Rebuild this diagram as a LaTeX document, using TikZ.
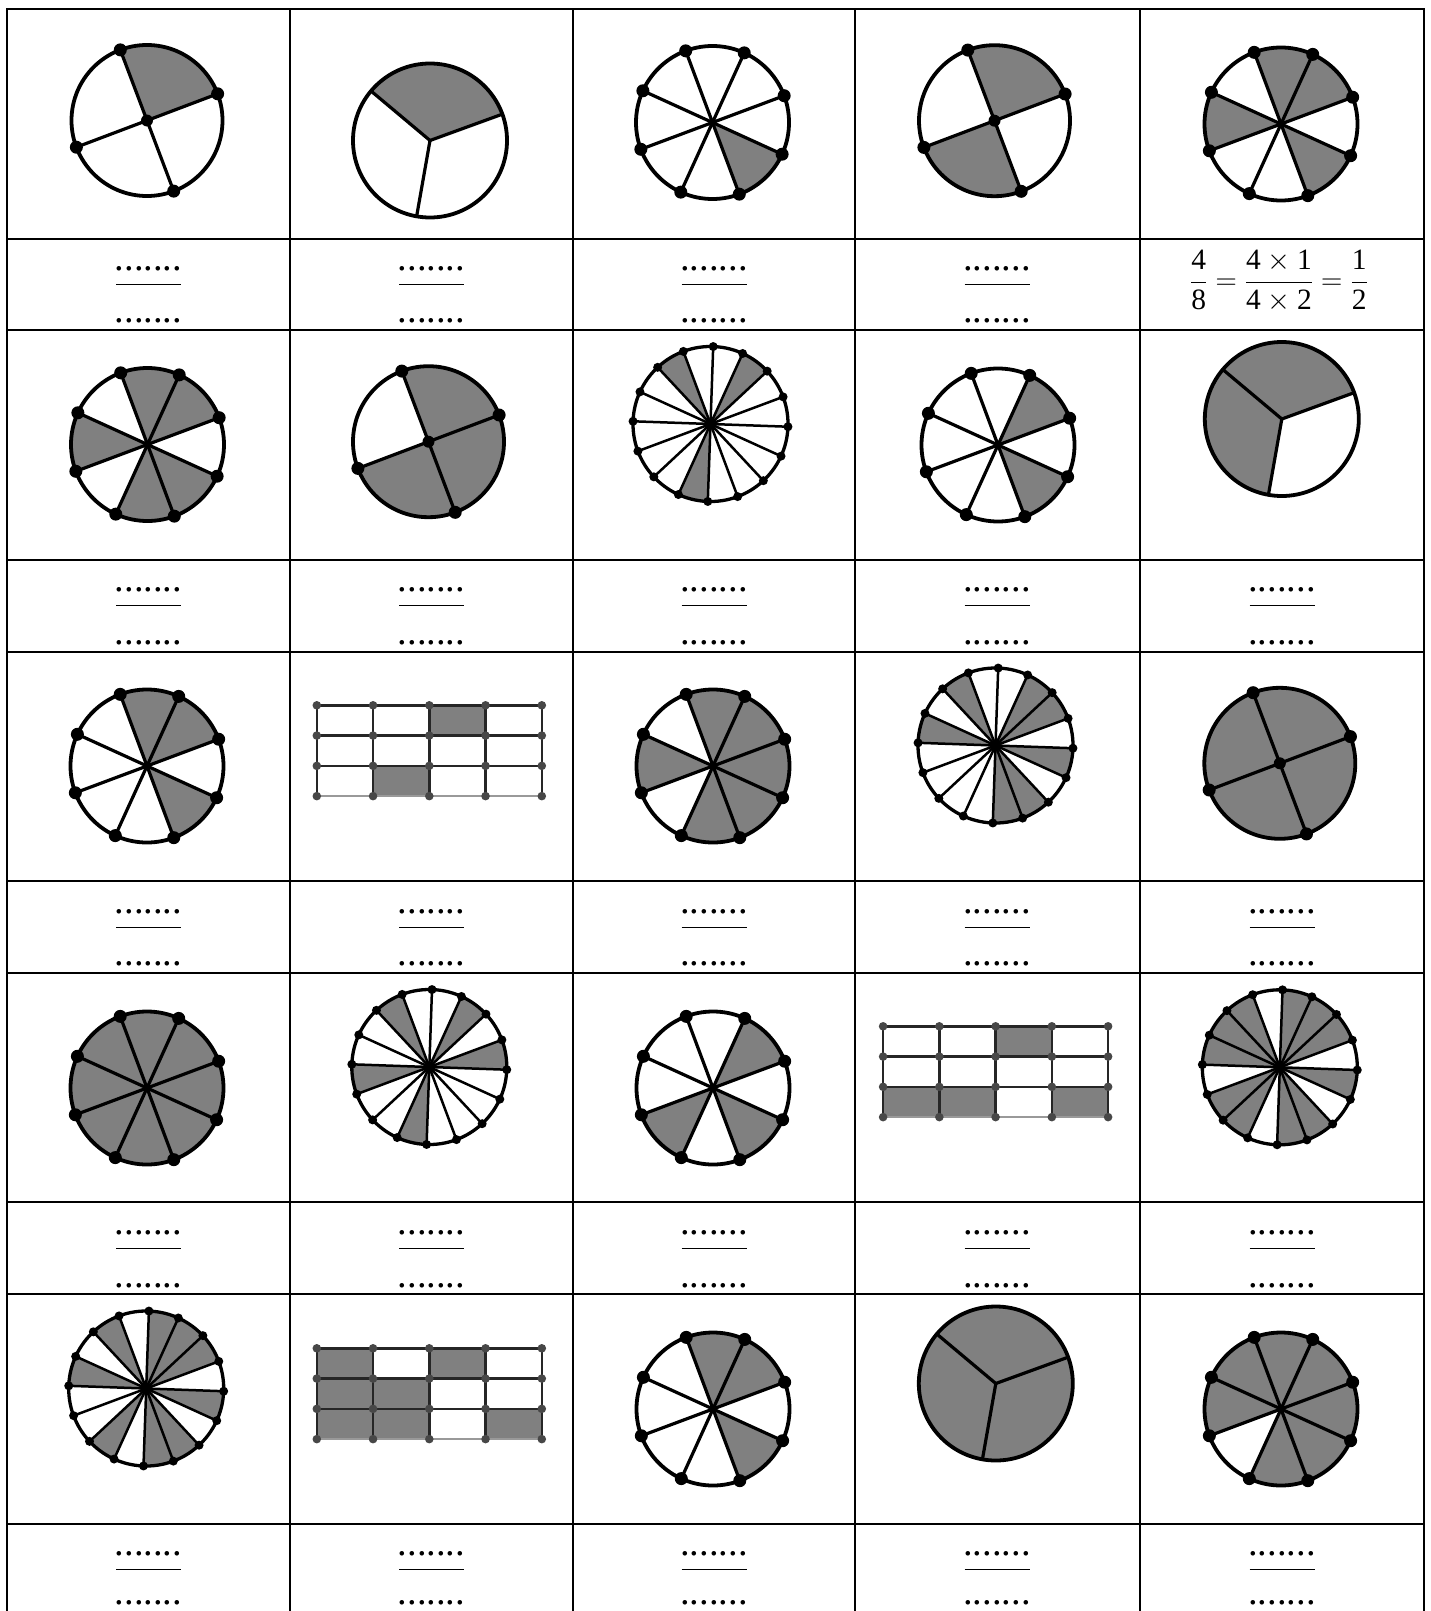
\RequirePackage{fix-cm}
\documentclass[tikz,border=0pt]{standalone}
\usepackage{amsmath}
\usepackage{fontspec}
\setmainfont{Liberation Serif}
\usepackage{tikz}
\definecolor{Shade}{HTML}{808080}
\definecolor{GridDot}{HTML}{474747}

% disc cut in equal parts: [style]{centre}{parts}{first angle}{shaded parts}{radius}
\newcommand{\fracpie}[6][]{%
  \begin{scope}[shift={(#2)},yscale=-1,#1]
    \foreach \k in {#5}
      \fill[Shade] (0,0) -- ({#4+\k*360/#3}:#6)
        arc[start angle={#4+\k*360/#3},delta angle={360/#3},radius=#6] -- cycle;
    \foreach \k in {1,...,#3}
      \draw[spoke] (0,0) -- ({#4+\k*360/#3}:#6);
    \draw[rim] (0,0) circle[radius=#6];
  \end{scope}}
% points on the rim and at the centre: {centre}{parts}{first angle}{radius}{rim dot}{centre dot}
\newcommand{\fracdots}[6]{%
  \begin{scope}[shift={(#1)},yscale=-1]
    \foreach \k in {1,...,#2}
      \fill ({#3+\k*360/#2}:#4) circle[radius=#5];
    \fill (0,0) circle[radius=#6];
  \end{scope}}
% 4 x 3 rectangle: {centre}{shaded cells col/row}
\newcommand{\cellgrid}[2]{%
  \begin{scope}[shift={(#1)}]
    \foreach \i/\j in {#2}
      \fill[Shade] ({-112.5+56.25*\i},{-45.4+30.27*\j}) rectangle ++(56.25,30.27);
    \foreach \i in {0,...,4}
      \draw[gridline] ({-112.5+56.25*\i},-45.4) -- ++(0,90.8);
    \foreach \j in {0,1,2}
      \draw[gridline] (-112.5,{-45.4+30.27*\j}) -- ++(225,0);
    \draw[gridline,black!40,line width=1.4pt] (-112.5,45.4) -- ++(225,0);
    \foreach \i in {0,...,4}
      \foreach \j in {0,...,3}
        \fill[GridDot] ({-112.5+56.25*\i},{-45.4+30.27*\j}) circle[radius=4.3];
  \end{scope}}

\begin{document}
\begin{tikzpicture}[x=1pt,y=-1pt,every node/.style={inner sep=0pt},
  tableline/.style={line width=2pt,line cap=rect},
  rim/.style={line width=3.8pt},
  spoke/.style={line width=3.2pt},
  fine/.style={spoke/.style={line width=2.5pt},rim/.style={line width=3.3pt}},
  gridline/.style={line width=2.4pt,black!85},
  blank/.style={font=\fontsize{38.5}{40}\selectfont,anchor=base},
  bar/.style={line width=1pt}]
\useasboundingbox (0,0) rectangle (1431,1611);
\clip (0,0) rectangle (1431,1611);

% table
\foreach \x in {7,290,573,855,1140,1424}
  \draw[tableline] (\x,9) -- (\x,1620);
\foreach \y in {9,238.5,330,560,651.5,881,972.5,1202,1294,1523.5}
  \draw[tableline] (7,\y) -- (1424,\y);

% row 1
\coordinate (r1c1) at (147,120.5);
\coordinate (r1c2) at (430,140.5);
\coordinate (r1c3) at (712.5,122.5);
\coordinate (r1c4) at (994.5,120.7);
\coordinate (r1c5) at (1281,124);
\fracpie{r1c1}{4}{20.7}{0}{75.5}
\fracdots{r1c1}{4}{20.7}{75.5}{6.5}{6}
\fracpie{r1c2}{3}{20}{0}{77}
\fracpie{r1c3}{8}{20.5}{6}{76.5}
\fracdots{r1c3}{8}{20.5}{76.5}{6.5}{4}
\fracpie{r1c4}{4}{20.7}{0,2}{75.5}
\fracdots{r1c4}{4}{20.7}{75.5}{6.5}{6}
\fracpie{r1c5}{8}{20.5}{0,1,3,6}{76.5}
\fracdots{r1c5}{8}{20.5}{76.5}{6.5}{4}

% row 2
\coordinate (r2c1) at (147.5,444.5);
\coordinate (r2c2) at (428.5,441.7);
\coordinate (r2c3) at (710.5,424);
\coordinate (r2c4) at (998,445);
\coordinate (r2c5) at (1281.8,419);
\fracpie{r2c1}{8}{20.5}{0,1,3,5,6}{76.5}
\fracdots{r2c1}{8}{20.5}{76.5}{6.5}{4}
\fracpie{r2c2}{4}{20.7}{0,2,3}{75.5}
\fracdots{r2c2}{4}{20.7}{75.5}{6.5}{6}
\fracpie[fine]{r2c3}{16}{-2}{2,5,11}{77.5}
\fracdots{r2c3}{16}{-2}{77.5}{4.5}{3}
\fracpie{r2c4}{8}{20.5}{0,6}{76.5}
\fracdots{r2c4}{8}{20.5}{76.5}{6.5}{4}
\fracpie{r2c5}{3}{20}{0,1}{77}

% row 3
\coordinate (r3c1) at (147,766);
\coordinate (r3c2) at (429.3,750.7);
\coordinate (r3c3) at (713,766);
\coordinate (r3c4) at (995.5,745.5);
\coordinate (r3c5) at (1279.8,763.3);
\fracpie{r3c1}{8}{20.5}{0,1,6}{76.5}
\fracdots{r3c1}{8}{20.5}{76.5}{6.5}{4}
\cellgrid{r3c2}{2/0,1/2}
\fracpie{r3c3}{8}{20.5}{0,1,3,5,6,7}{76.5}
\fracdots{r3c3}{8}{20.5}{76.5}{6.5}{4}
\fracpie[fine]{r3c4}{16}{-2}{1,2,5,7,12,13,15}{77.5}
\fracdots{r3c4}{16}{-2}{77.5}{4.5}{3}
\fracpie{r3c5}{4}{20.7}{0,1,2,3}{75.5}
\fracdots{r3c5}{4}{20.7}{75.5}{6.5}{6}

% row 4
\coordinate (r4c1) at (147,1088);
\coordinate (r4c2) at (429.3,1067);
\coordinate (r4c3) at (713,1088);
\coordinate (r4c4) at (995.6,1071.7);
\coordinate (r4c5) at (1279.8,1067.3);
\fracpie{r4c1}{8}{20.5}{0,...,7}{76.5}
\fracdots{r4c1}{8}{20.5}{76.5}{6.5}{4}
\fracpie[fine]{r4c2}{16}{-2}{0,2,5,8,11}{77.5}
\fracdots{r4c2}{16}{-2}{77.5}{4.5}{3}
\fracpie{r4c3}{8}{20.5}{0,4,6}{76.5}
\fracdots{r4c3}{8}{20.5}{76.5}{6.5}{4}
\cellgrid{r4c4}{2/0,0/2,1/2,3/2}
\fracpie[fine]{r4c5}{16}{-2}{1,2,3,5,6,7,9,10,12,13,15}{77.5}
\fracdots{r4c5}{16}{-2}{77.5}{4.5}{3}

% row 5
\coordinate (r5c1) at (146.2,1388.5);
\coordinate (r5c2) at (429.3,1393.7);
\coordinate (r5c3) at (713,1409);
\coordinate (r5c4) at (995.8,1383.5);
\coordinate (r5c5) at (1281,1409);
\fracpie[fine]{r5c1}{16}{-2}{1,2,3,5,7,10,12,13,15}{77.5}
\fracdots{r5c1}{16}{-2}{77.5}{4.5}{3}
\cellgrid{r5c2}{0/0,2/0,0/1,1/1,0/2,1/2,3/2}
\fracpie{r5c3}{8}{20.5}{0,1,6}{76.5}
\fracdots{r5c3}{8}{20.5}{76.5}{6.5}{4}
\fracpie{r5c4}{3}{20}{0,1,2}{77}
\fracpie{r5c5}{8}{20.5}{0,1,2,3,5,6,7}{76.5}
\fracdots{r5c5}{8}{20.5}{76.5}{6.5}{4}

% answers to fill in
\foreach \y/\d [count=\rw] in {238.5/84,560/84,881.5/84,1203/84,1524/80}
  \foreach \x [count=\cl] in {148.5,431.5,714,997,1282} {
    \ifnum\rw\cl=15\relax\else
      \node[blank] (num-\rw-\cl) at ({\x},{\y+31.5}) {.......};
      \node[blank] (den-\rw-\cl) at ({\x},{\y+\d}) {.......};
      \draw[bar] ({\x-32.5},{\y+45.5}) -- ++(65,0);
    \fi}
\node[anchor=base,font=\fontsize{29.5}{36}\selectfont] (ex-1-5) at (1279,289.4)
  {$\displaystyle\frac{\text{4}}{\text{8}}=\frac{\text{4}\times\text{1}}{\text{4}\times\text{2}}=\frac{\text{1}}{\text{2}}$};
\end{tikzpicture}
\end{document}
